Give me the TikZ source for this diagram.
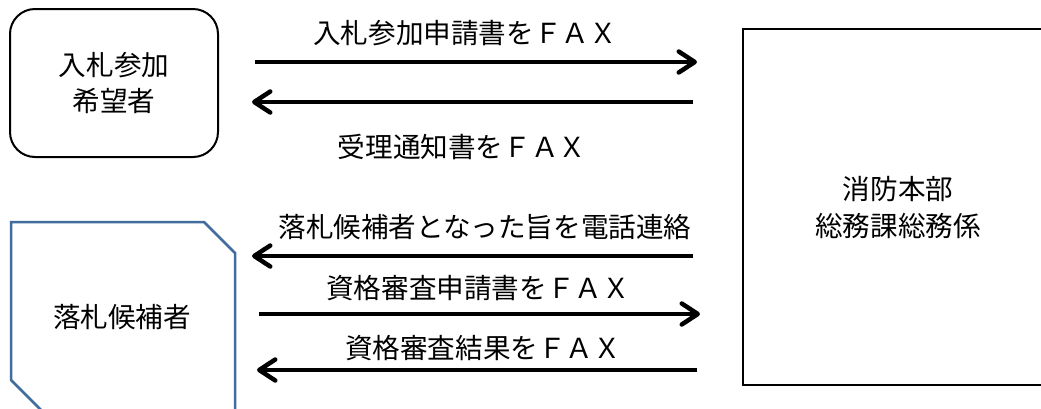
\documentclass[tikz,border=0pt]{standalone}
\usepackage{fontspec}
\newfontfamily\cjk{Noto Sans CJK JP}
\usetikzlibrary{arrows.meta}
\definecolor{snipblue}{RGB}{65,108,158}
\begin{document}
\begin{tikzpicture}[x=1pt,y=-1pt,
  lbl/.style={font=\cjk\fontsize{27.6}{36}\selectfont, inner sep=0pt, anchor=center, align=center},
  flow/.style={line width=4.5pt, -{Straight Barb[round,length=16pt,width=21pt]}},
  ]
\clip (0,0) rectangle (1041,408);
\fill[white] (0,0) rectangle (1041,408);

% boxes
\node[draw, line width=2pt, rounded corners=25pt, minimum width=208pt, minimum height=148pt, lbl] (app) at (114,83) {入札参加\\希望者};
\draw[snipblue, line width=2.5pt, line join=miter] (11,222) -- (204,222) -- (235,253) -- (235,412) -- (43,412) -- (11,380) -- cycle;
\node[lbl] (cand) at (122,317) {落札候補者};
\node[draw, line width=2pt, minimum width=310pt, minimum height=356pt, lbl, font=\cjk\fontsize{27.6}{37}\selectfont] (hq) at (898,207) {消防本部\\総務課総務係};

% arrow end points
\coordinate (a1s) at (255,62);  \coordinate (a1e) at (697,62);
\coordinate (a2s) at (693,102); \coordinate (a2e) at (252,102);
\coordinate (a3s) at (693,256); \coordinate (a3e) at (252,256);
\coordinate (a4s) at (259,314); \coordinate (a4e) at (700,314);
\coordinate (a5s) at (697,370); \coordinate (a5e) at (257,370);

\draw[flow] (a1s) -- (a1e);
\draw[flow] (a2s) -- (a2e);
\draw[flow] (a3s) -- (a3e);
\draw[flow] (a4s) -- (a4e);
\draw[flow] (a5s) -- (a5e);

% labels
\node[lbl] (t1) at (465,33) {入札参加申請書をＦＡＸ};
\node[lbl] (t2) at (462,147) {受理通知書をＦＡＸ};
\node[lbl] (t3) at (485,227) {落札候補者となった旨を電話連絡};
\node[lbl] (t4) at (478,288) {資格審査申請書をＦＡＸ};
\node[lbl] (t5) at (483,348) {資格審査結果をＦＡＸ};
\end{tikzpicture}
\end{document}
